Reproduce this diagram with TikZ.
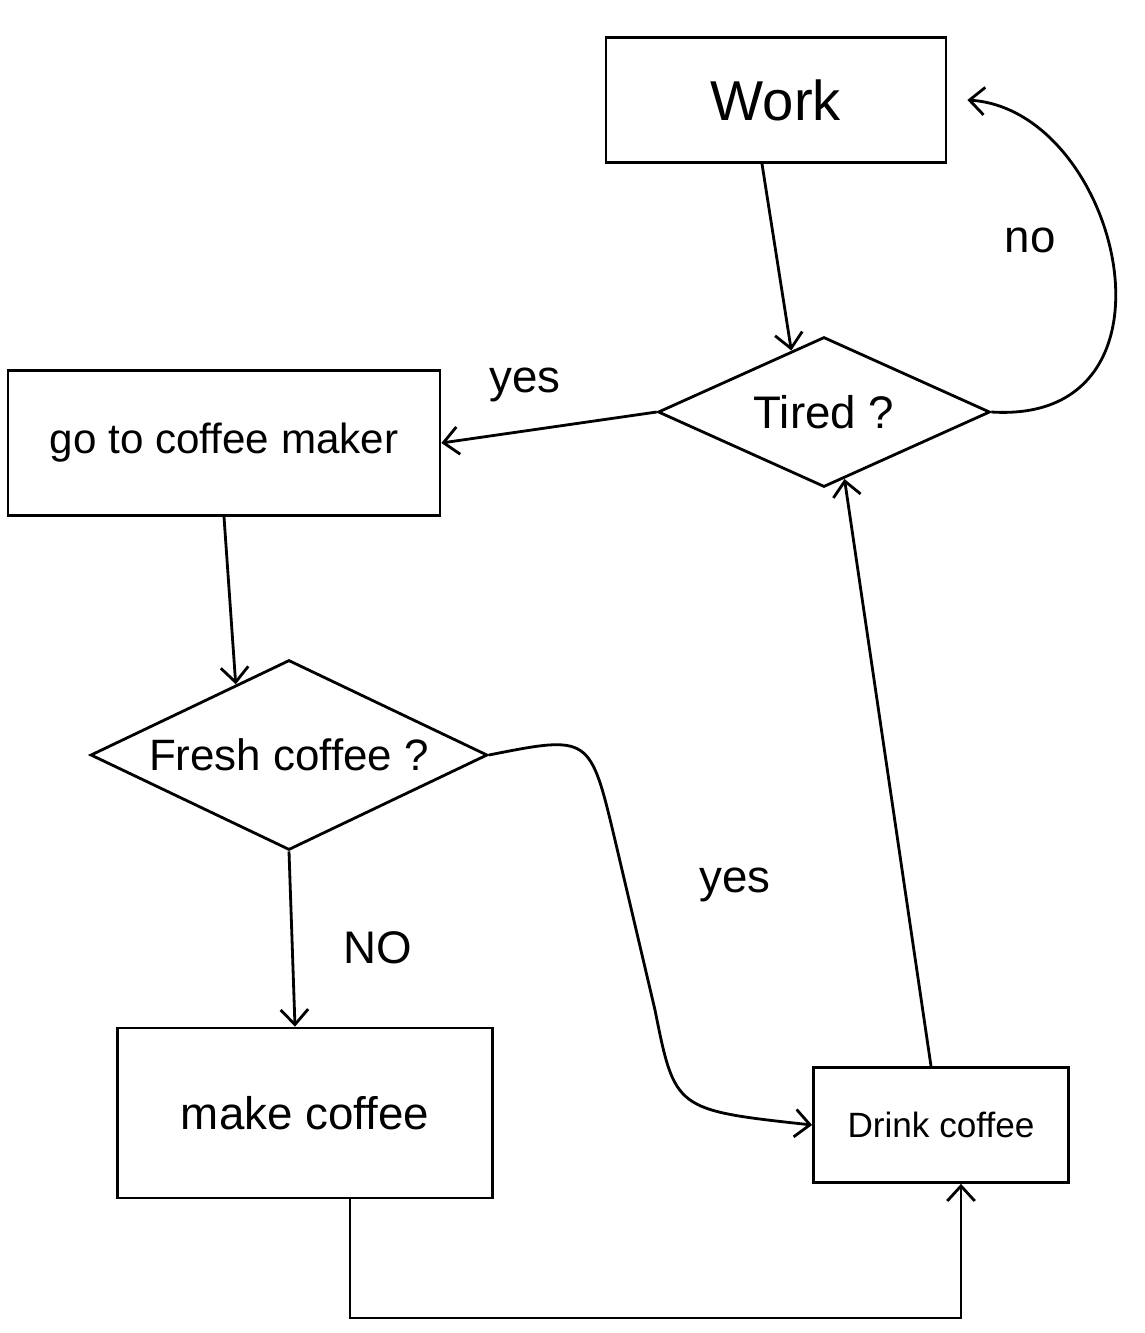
\documentclass[tikz,border=0pt]{standalone}
\usepackage{fontspec}
\setmainfont{Liberation Sans}
\usetikzlibrary{shapes.geometric,arrows.meta}
\begin{document}
\begin{tikzpicture}[x=0.02cm,y=0.02cm,
  line width=1.6pt,
  arr/.style={-{Straight Barb[length=3mm,width=5.5mm,line width=1.6pt]}},
  box/.style={draw,rectangle,inner sep=0pt},
  decision/.style={draw,diamond,inner sep=0pt},
  fs/.style={font=\fontsize{#1}{#1}\selectfont},
  lbl/.style={fs=26}]
\useasboundingbox (0,0) rectangle (1144,-1333);

% process boxes
\node[box,minimum width=6.8cm,minimum height=2.5cm,fs=32] (work) at (776,-100) {Work};
\node[box,minimum width=8.64cm,minimum height=2.9cm,fs=24] (goto) at (224,-443) {go to coffee maker};
\node[box,minimum width=7.5cm,minimum height=3.4cm,fs=26] (make) at (305,-1113) {make coffee};
\node[box,minimum width=5.1cm,minimum height=2.3cm,fs=20] (drink) at (941,-1125) {Drink coffee};

% decisions
\node[decision,minimum width=6.64cm,minimum height=3cm,
      label={[fs=26]center:Tired ?}] (tired) at (824,-412) {};
\node[decision,minimum width=7.94cm,minimum height=3.8cm,
      label={[fs=25]center:Fresh coffee ?}] (fresh) at (289,-755) {};

% connectors
\draw[arr] ([xshift=-0.28cm]work.south) -- (tired.118);
\draw[arr] (tired.east) .. controls (1195,-425) and (1120,-110) .. ([xshift=0.4cm]work.east);
\node[lbl] (no1) at (1030,-240) {no};
\draw[arr] (tired.west) -- (goto.east);
\node[lbl] (yes1) at (525,-385) {yes};
\draw[arr] (goto.south) -- (fresh.127);
\draw[arr] (fresh.south) -- ([xshift=-0.2cm]make.north);
\node[lbl] (no2) at (378,-948) {NO};
\draw[arr] (fresh.east) .. controls (590,-735) .. (615,-840) -- (655,-1010)
  .. controls (675,-1110) .. (drink.west);
\node[lbl] (yes2) at (735,-885) {yes};
\coordinate (m1) at ([xshift=0.9cm]make.south);
\coordinate (b1) at (m1 |- 0,-1318);
\coordinate (d1) at ([xshift=0.4cm]drink.south);
\coordinate (b2) at (d1 |- 0,-1318);
\draw[arr] (m1) -- (b1) -- (b2) -- (d1);
\draw[arr] ([xshift=-0.2cm]drink.north) -- (tired.-73);
\end{tikzpicture}
\end{document}
